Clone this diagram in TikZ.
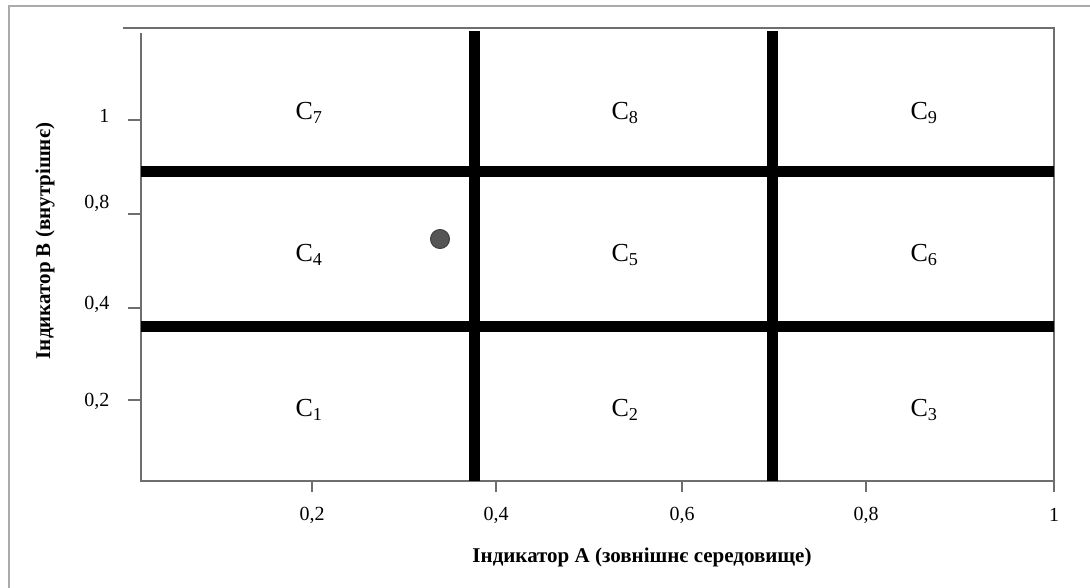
\documentclass[tikz,border=0pt]{standalone}
\usepackage{fontspec}
\setmainfont{Liberation Serif}
\usepackage{tikz}
\definecolor{axisGray}{RGB}{110, 110, 110}
\definecolor{frameGray}{RGB}{170, 170, 170}
\definecolor{dotGray}{RGB}{85, 85, 85}

\begin{document}
\begin{tikzpicture}[x=1pt, y=-1pt,
    axis/.style={axisGray, line width=1.6pt},
    split/.style={black, line width=11pt},
    cell/.style={font=\fontsize{26}{28}\selectfont},
    tick/.style={font=\fontsize{20}{22}\selectfont},
    title/.style={font=\fontsize{21}{23}\selectfont\bfseries}]
      \useasboundingbox (0,0) rectangle (1090,587);
      % outer frame (only top and left edges show)
      \draw[frameGray, line width=1.5pt] (9,592) -- (9,6) -- (1095,6);

      % plot box
      \draw[axis] (123,28) -- (1054,28) -- (1054,481) -- (141,481) -- (141,33);

      % splitting lines
      \draw[split] (474,31) -- (474,481);
      \draw[split] (772,31) -- (772,481);
      \draw[split] (141,171) -- (1054,171);
      \draw[split] (141,326) -- (1054,326);

      % ticks on the left axis
      \draw[axis] (128,120) -- (141,120);
      \draw[axis] (128,214) -- (141,214);
      \draw[axis] (128,308) -- (141,308);
      \draw[axis] (128,400) -- (141,400);
      \node[tick, anchor=east] (y10) at (113,116) {1};
      \node[tick, anchor=east] (y08) at (113,203) {0,8};
      \node[tick, anchor=east] (y04) at (113,304) {0,4};
      \node[tick, anchor=east] (y02) at (113,401) {0,2};

      % ticks on the bottom axis
      \foreach \xp/\lab/\nm in {312/{0,2}/x02, 496/{0,4}/x04, 682/{0,6}/x06, 866/{0,8}/x08, 1054/1/x10} {
        \draw[axis] (\xp,481) -- (\xp,492);
        \node[tick] (\nm) at (\xp,515) {\lab};
      }

      % cells
      \node[cell] (c7) at (309,113) {C\textsubscript{7}};
      \node[cell] (c8) at (625,113) {C\textsubscript{8}};
      \node[cell] (c9) at (924,113) {C\textsubscript{9}};
      \node[cell] (c4) at (309,255) {C\textsubscript{4}};
      \node[cell] (c5) at (625,255) {C\textsubscript{5}};
      \node[cell] (c6) at (924,255) {C\textsubscript{6}};
      \node[cell] (c1) at (309,410) {C\textsubscript{1}};
      \node[cell] (c2) at (625,410) {C\textsubscript{2}};
      \node[cell] (c3) at (924,410) {C\textsubscript{3}};

      % current position
      \fill[dotGray, draw=black!75, line width=1pt] (440,239) circle (9.5);

      % axis titles
      \node[title] (xtitle) at (642,557) {Індикатор А (зовнішнє середовище)};
      \node[title, rotate=90] (ytitle) at (45,241) {Індикатор В (внутрішнє)};
    \end{tikzpicture}
\end{document}
